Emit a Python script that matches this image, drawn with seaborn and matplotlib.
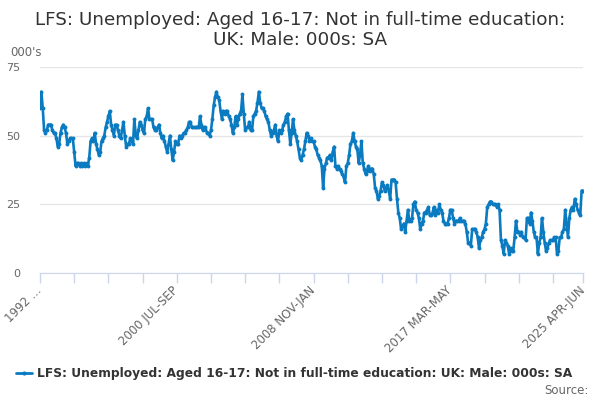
import numpy as np
import pandas as pd
import matplotlib
matplotlib.use('Agg')
import matplotlib.pyplot as plt
import seaborn as sns
from matplotlib.lines import Line2D

# Series values (000s), one per rolling quarter from 1992 MAR-MAY to 2025 APR-JUN
values = [
    60, 66, 60, 52, 51, 52, 54, 54, 54, 52, 51, 51, 49, 46, 47, 51, 53, 54, 53, 51,
    47, 48, 49, 49, 49, 44, 39, 40, 40, 39, 40, 39, 40, 39, 40, 39, 42, 48, 49, 48,
    51, 47, 45, 43, 44, 48, 49, 50, 53, 55, 57, 59, 54, 52, 50, 54, 54, 52, 50, 49,
    52, 55, 50, 46, 47, 47, 49, 48, 47, 56, 50, 49, 52, 55, 54, 52, 51, 56, 57, 60,
    56, 56, 56, 53, 52, 52, 53, 54, 51, 49, 50, 48, 46, 44, 47, 50, 45, 41, 44, 48,
    47, 47, 50, 49, 50, 51, 51, 52, 53, 55, 55, 53, 53, 53, 53, 53, 53, 57, 54, 52,
    53, 53, 51, 51, 50, 52, 56, 61, 64, 66, 64, 63, 59, 56, 59, 58, 59, 59, 57, 56,
    54, 51, 53, 57, 54, 56, 58, 59, 65, 58, 52, 53, 53, 55, 52, 52, 57, 58, 59, 62,
    66, 62, 60, 60, 59, 57, 56, 55, 52, 50, 51, 52, 54, 50, 48, 52, 51, 52, 54, 55,
    57, 58, 52, 47, 51, 56, 52, 50, 48, 45, 42, 41, 43, 45, 48, 51, 50, 48, 49, 48,
    48, 46, 45, 43, 42, 41, 39, 31, 38, 40, 42, 42, 43, 41, 44, 46, 39, 38, 39, 38,
    37, 36, 35, 33, 39, 40, 43, 47, 48, 51, 48, 46, 45, 40, 43, 48, 40, 38, 36, 37,
    39, 37, 38, 38, 36, 31, 30, 27, 28, 30, 33, 32, 30, 31, 32, 30, 27, 34, 34, 34,
    33, 27, 22, 20, 16, 17, 18, 15, 19, 23, 19, 19, 20, 25, 26, 23, 22, 20, 16, 18,
    19, 22, 22, 23, 24, 21, 21, 22, 24, 21, 23, 22, 25, 23, 22, 19, 18, 18, 18, 20,
    23, 23, 20, 18, 19, 19, 19, 20, 19, 19, 19, 18, 15, 11, 11, 10, 16, 16, 16, 15,
    13, 9, 12, 13, 15, 16, 18, 24, 25, 26, 26, 25, 25, 25, 24, 25, 23, 12, 10, 7,
    12, 11, 10, 7, 9, 8, 8, 13, 19, 15, 15, 14, 15, 13, 13, 12, 20, 20, 18, 22,
    19, 15, 13, 13, 7, 11, 13, 20, 15, 11, 8, 9, 11, 12, 12, 12, 13, 13, 7, 8,
    13, 13, 15, 16, 23, 18, 13, 20, 23, 24, 23, 27, 25, 23, 22, 21, 30, 30,
]

months = ['JAN', 'FEB', 'MAR', 'APR', 'MAY', 'JUN', 'JUL', 'AUG', 'SEP', 'OCT', 'NOV', 'DEC']
start_year, start_month = 1992, 2  # MAR
periods = []
for k in range(len(values)):
    m = (start_month + k) % 12
    y = start_year + (start_month + k) // 12
    periods.append(f"{y} {months[m]}-{months[(m + 2) % 12]}")

tick_idx = [0, 100, 200, 300, len(values) - 1]
tick_text = ['1992 …', periods[100], periods[200], periods[300], periods[-1]]
y_ticks = [0, 25, 50, 75]

series_name = 'LFS: Unemployed: Aged 16-17: Not in full-time education: UK: Male: 000s: SA'
df = pd.DataFrame({'idx': np.arange(len(values)), 'value': values})

sns.set_style('white')
plt.rcParams['font.family'] = ['DejaVu Sans']
line_color = '#0a7bc1'

fig = plt.figure(figsize=(6, 4), dpi=100)
ax = fig.add_axes([40 / 600, 1 - 273 / 400, 543 / 600, 206 / 400])
sns.lineplot(data=df, x='idx', y='value', ax=ax, color=line_color, linewidth=1.9,
             marker='o', markersize=2.8, markeredgewidth=0)

ax.set_xlim(0, len(values) - 1)
ax.set_ylim(0, 75)
ax.set_yticks(y_ticks)
ax.set_yticklabels([str(t) for t in y_ticks], color='#666666', fontsize=8)
ax.yaxis.grid(True, color='#e6e6e6', linewidth=1)
ax.set_xlabel('')
ax.set_ylabel('')

ax.set_xticks(tick_idx)
ax.set_xticklabels(tick_text, rotation=45, ha='right', va='center', rotation_mode='anchor',
                   color='#666666', fontsize=8.5)
ax.set_xticks(np.arange(0, len(values), 25), minor=True)
ax.tick_params(axis='x', which='both', bottom=True, direction='out', length=7,
               color='#ccd6eb', width=1, pad=4)
ax.tick_params(axis='y', left=False, length=0, pad=14)

for side in ['top', 'right', 'left']:
    ax.spines[side].set_visible(False)
ax.spines['bottom'].set_color('#ccd6eb')

fig.text(0.5, 1 - 30 / 400, 'LFS: Unemployed: Aged 16-17: Not in full-time education:\nUK: Male: 000s: SA',
         ha='center', va='center', fontsize=13.2, color='#333333', linespacing=1.2)
fig.text(10 / 600, 1 - 52 / 400, "000's", ha='left', va='center', fontsize=8.5, color='#666666')

# legend
handle = Line2D([0], [0], color=line_color, linewidth=2, marker='o', markersize=3, markeredgewidth=0)
fig.legend([handle], [series_name], loc='center', bbox_to_anchor=(0.49, 1 - 374 / 400),
           frameon=False, handlelength=1.3, handletextpad=0.4,
           prop={'weight': 'bold', 'size': 8.8}, labelcolor='#333333')
fig.text(589 / 600, 1 - 390 / 400, 'Source:', ha='right', va='center', fontsize=8.5, color='#666666')

fig.savefig('out.png', dpi=100)
